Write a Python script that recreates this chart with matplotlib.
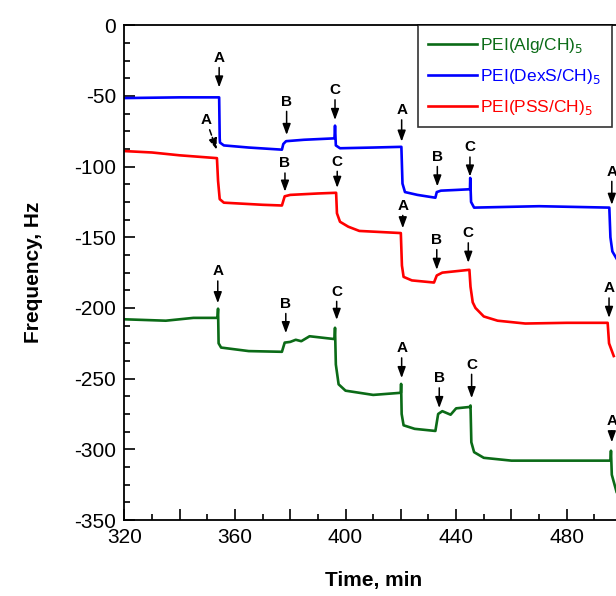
import matplotlib
matplotlib.use('Agg')
import matplotlib.pyplot as plt
from matplotlib.ticker import MultipleLocator, FuncFormatter

plt.rcParams['font.family'] = ['Liberation Sans', 'DejaVu Sans']
plt.rcParams['axes.unicode_minus'] = False

# PEI(Alg/CH)5
t_alg = [320, 335, 345, 353.7, 353.9, 354.1, 355, 365, 377, 378, 380, 382, 384, 387, 396,
         396.2, 396.5, 397.5, 400, 405, 410, 420, 420.1, 420.3, 421, 425, 432.5, 433.5, 435,
         438, 440, 445, 445.2, 445.5, 446.5, 450, 460, 480, 495.8, 496, 496.3, 498]
f_alg = [-208, -209, -207, -207, -200.5, -225, -228, -230.5, -231, -224.5, -224, -222.5, -223.5,
         -220, -222, -214, -240, -254, -258.5, -260, -261.5, -260, -253.7, -275, -283, -285.5,
         -287, -275, -273, -275.5, -271, -270, -269, -295, -302, -306, -308, -308, -308, -301,
         -318, -330]

# PEI(DexS/CH)5
t_dex = [320, 340, 354.3, 354.5, 354.6, 356, 365, 377, 377.5, 378.5, 385, 396, 396.2, 396.5,
         398, 410, 420.2, 420.6, 421.5, 426, 432.5, 433, 434.5, 440, 445, 445.1, 445.4, 446.5,
         470, 495.4, 495.8, 496.5, 498]
f_dex = [-51.5, -51, -51, -80, -83, -85, -86.5, -88, -84, -82, -81, -80, -71, -85, -87, -86.5,
         -86, -112, -118, -120, -122, -118, -117, -116.5, -116, -108, -125, -129, -128, -129,
         -150, -160, -165]

# PEI(PSS/CH)5
t_pss = [320, 330, 340, 353.5, 353.9, 354.5, 356, 370, 377, 378, 380, 390, 396.6, 396.9, 398,
         401, 405, 420, 420.4, 421, 424, 432, 433, 435, 444.8, 445.2, 446, 447, 450, 455, 465,
         480, 494.8, 495.3, 497]
f_pss = [-89, -90, -92, -94, -110, -123, -125.5, -127, -127.5, -121, -120, -119, -118.5, -133,
         -139, -142.5, -145.5, -147, -170, -178, -180.5, -182, -177, -175, -173, -185, -196,
         -200, -206, -209, -211, -210.5, -210.5, -225, -234]

# event markers: letter, label (t, f), arrow tip (t, f)
ev_text = ['A', 'B', 'C', 'A', 'B', 'C', 'A',
           'A', 'B', 'C', 'A', 'B', 'C', 'A',
           'A', 'B', 'C', 'A', 'B', 'C', 'A']
ev_label = [(354.3, -23), (378.7, -54), (396.2, -45.8), (420.3, -60), (433.2, -93), (445, -86.3), (496.3, -103.5),
            (349.6, -67), (378.1, -97.6), (397, -96.4), (420.7, -127.6), (433, -151.8), (444.4, -147), (495.3, -186),
            (353.8, -174), (378.4, -197), (396.8, -188.4), (420.3, -228.4), (433.9, -249.6), (445.6, -240), (496.3, -280)]
ev_tip = [(354.3, -44), (378.7, -77.6), (396.2, -67), (420.3, -82.3), (433.2, -114), (445, -107), (496.3, -127),
          (353.4, -88), (378.1, -117.7), (397, -115), (420.7, -143.6), (433, -173), (444.4, -168), (495.3, -207),
          (353.8, -196.6), (378.4, -217.8), (396.8, -208.4), (420.3, -249.6), (433.9, -270.8), (445.6, -263.8), (496.3, -295)]

fig = plt.figure(figsize=(6.16, 5.96), dpi=100)
ax = fig.add_axes([0.2018, 0.1275, 0.808, 0.8301])

green = '#0b6b17'
ax.plot(t_alg, f_alg, color=green, lw=1.9, label='PEI(Alg/CH)$_5$')
ax.plot(t_dex, f_dex, color='#0000ff', lw=1.9, label='PEI(DexS/CH)$_5$')
ax.plot(t_pss, f_pss, color='#ff0000', lw=1.9, label='PEI(PSS/CH)$_5$')

for i, (txt, lab, tip) in enumerate(zip(ev_text, ev_label, ev_tip)):
    ls = '--' if i == 7 else '-'
    ax.annotate(txt, xy=tip, xytext=lab, ha='center', va='center', fontsize=11,
                fontweight='bold', annotation_clip=False,
                arrowprops=dict(arrowstyle='-|>,head_length=0.6,head_width=0.22', color='black',
                                lw=1.1, linestyle=ls, shrinkA=0, shrinkB=0))

ax.set_xlim(320, 500)
ax.set_ylim(-350, 0)
ax.xaxis.set_major_locator(MultipleLocator(20))
ax.xaxis.set_minor_locator(MultipleLocator(10))
ax.xaxis.set_major_formatter(FuncFormatter(lambda v, p: f'{v:.0f}' if v % 40 == 0 else ''))
ax.yaxis.set_major_locator(MultipleLocator(50))
ax.yaxis.set_minor_locator(MultipleLocator(12.5))
ax.tick_params(which='both', direction='in', labelsize=15, width=1.2)
ax.tick_params(which='major', length=8, pad=6)
ax.tick_params(which='minor', length=4)
for s in ax.spines.values():
    s.set_linewidth(1.3)

ax.set_xlabel('Time, min', fontsize=15, fontweight='bold', labelpad=17)
ax.set_ylabel('Frequency, Hz', fontsize=15, fontweight='bold', labelpad=22)

leg = ax.legend(loc='upper left', bbox_to_anchor=(0.59, 1.0), fontsize=12.5,
                frameon=True, fancybox=False, edgecolor='black', borderaxespad=0,
                handlelength=2.8, handletextpad=0.2, labelspacing=0.7, borderpad=0.6)
leg.get_frame().set_linewidth(1.2)
for txt, line in zip(leg.get_texts(), leg.get_lines()):
    txt.set_color(line.get_color())

fig.savefig('out.png', dpi=100)
